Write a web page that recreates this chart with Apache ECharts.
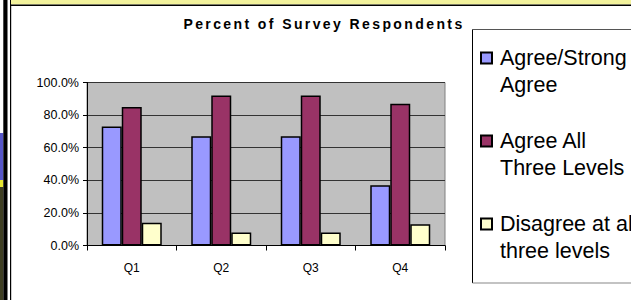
<!DOCTYPE html>
<html>
<head>
<meta charset="utf-8">
<script src="https://cdn.jsdelivr.net/npm/echarts@6/dist/echarts.min.js"></script>
<style>
html,body{margin:0;padding:0;background:#fff;}
#chart{width:631px;height:300px;}
#chart text[style*="bold"]{letter-spacing:2.4px;}
</style>
</head>
<body>
<div id="chart"></div>
<script>
var categories = ['Q1', 'Q2', 'Q3', 'Q4'];
var seriesNames = ['Agree/Strong Agree', 'Agree All Three Levels', 'Disagree at all three levels'];
var legendLabels = ['Agree/Strong\nAgree', 'Agree All\nThree Levels', 'Disagree at all\nthree levels'];
var agreeStrong = [73, 67, 67, 37];
var agreeAll = [85, 92, 92, 87];
var disagreeAll = [14, 8, 8, 13];
var colors = ['#9999FF', '#993366', '#FFFFCC'];
var yTicks = [0, 20, 40, 60, 80, 100];

var chart = echarts.init(document.getElementById('chart'), null, {renderer: 'svg'});
var font = 'Liberation Sans, Arial, sans-serif';

function mkSeries(i, data) {
  return {
    name: seriesNames[i],
    type: 'bar',
    data: data,
    barWidth: 20,
    barGap: '0%',
    itemStyle: {color: colors[i], borderColor: '#000', borderWidth: 1.5},
    emphasis: {disabled: true},
    animation: false
  };
}

var option = {
  animation: false,
  title: {
    text: 'Percent of Survey Respondents',
    left: 324,
    textAlign: 'center',
    top: 16.5,
    padding: 0,
    textStyle: {fontSize: 14, fontWeight: 'bold', color: '#000', fontFamily: font}
  },
  legend: {
    orient: 'vertical',
    left: 480,
    top: 17.5,
    padding: 0,
    itemGap: 2,
    itemWidth: 11,
    itemHeight: 11,
    icon: 'rect',
    selectedMode: false,
    data: seriesNames,
    formatter: function (name) { return '\n' + legendLabels[seriesNames.indexOf(name)]; },
    textStyle: {fontSize: 21.5, fontFamily: font, color: '#000', lineHeight: 27, padding: [0, 0, 0, 3]}
  },
  grid: {
    left: 87, top: 82.5, width: 358, height: 163,
    show: true, backgroundColor: '#C0C0C0', borderColor: '#808080', borderWidth: 1,
    containLabel: false, outerBoundsMode: 'none'
  },
  xAxis: {
    type: 'category',
    data: categories,
    axisLine: {lineStyle: {color: '#000', width: 1}},
    axisTick: {show: true, length: 5, lineStyle: {color: '#000'}},
    axisLabel: {fontSize: 12, color: '#000', fontFamily: font, margin: 16}
  },
  yAxis: {
    type: 'value',
    min: yTicks[0], max: yTicks[yTicks.length - 1], interval: 20,
    axisLine: {show: true, lineStyle: {color: '#000', width: 1}},
    axisTick: {show: true, length: 4, lineStyle: {color: '#000'}},
    axisLabel: {fontSize: 12.5, color: '#000', fontFamily: font, margin: 8,
      formatter: function (v) { return v.toFixed(1) + '%'; }},
    splitLine: {show: true, lineStyle: {color: '#333', width: 1}}
  },
  series: [mkSeries(0, agreeStrong), mkSeries(1, agreeAll), mkSeries(2, disagreeAll)],
  graphic: [
    {type: 'rect', silent: true, shape: {x: 0, y: 133, width: 3.3, height: 47}, style: {fill: '#5656c8'}},
    {type: 'rect', silent: true, shape: {x: 0, y: 180, width: 3.3, height: 7}, style: {fill: '#e6e632'}},
    {type: 'rect', silent: true, shape: {x: 0, y: 187, width: 3.3, height: 113}, style: {fill: '#3e3e22'}},
    {type: 'rect', silent: true, shape: {x: 3.3, y: 0, width: 4.2, height: 300}, style: {fill: '#000'}},
    {type: 'rect', silent: true, shape: {x: 10, y: 0, width: 1.2, height: 300}, style: {fill: '#000'}},
    {type: 'rect', silent: true, shape: {x: 11, y: 0, width: 620, height: 4.6}, style: {fill: '#f2f29c'}},
    {type: 'rect', silent: true, shape: {x: 11, y: 4.6, width: 620, height: 1.5}, style: {fill: '#000'}},
    {type: 'line', silent: true, shape: {x1: 472.5, y1: 29.5, x2: 631, y2: 29.5}, style: {stroke: '#555', lineWidth: 1}},
    {type: 'line', silent: true, shape: {x1: 472.5, y1: 29.5, x2: 472.5, y2: 283}, style: {stroke: '#000', lineWidth: 1}},
    {type: 'line', silent: true, shape: {x1: 472.5, y1: 283, x2: 631, y2: 283}, style: {stroke: '#888', lineWidth: 1.2}}
  ]
};
chart.setOption(option);
</script>
</body>
</html>
